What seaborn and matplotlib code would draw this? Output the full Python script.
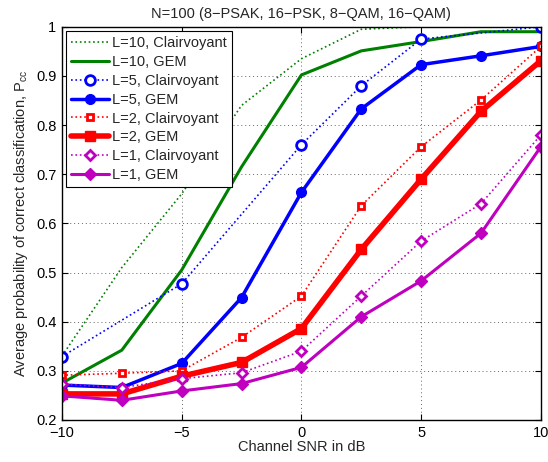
import matplotlib
matplotlib.use("Agg")
import matplotlib.pyplot as plt
import seaborn as sns
import numpy as np

snr = [-10, -7.5, -5, -2.5, 0, 2.5, 5, 7.5, 10]
snr_l5c = [-10, -5, 0, 2.5, 5, 10]

l10_clair = [0.33, 0.51, 0.66, 0.84, 0.935, 0.995, 1.0, 1.0, 1.0]
l10_gem = [0.275, 0.342, 0.505, 0.715, 0.902, 0.951, 0.97, 0.99, 0.99]
l5_clair = [0.329, 0.477, 0.76, 0.88, 0.975, 1.0]
l5_gem = [0.271, 0.266, 0.315, 0.449, 0.663, 0.833, 0.923, 0.941, 0.96]
l2_clair = [0.291, 0.295, 0.30, 0.368, 0.452, 0.636, 0.756, 0.851, 0.96]
l2_gem = [0.253, 0.253, 0.289, 0.317, 0.386, 0.547, 0.69, 0.828, 0.931]
l1_clair = [0.273, 0.266, 0.284, 0.296, 0.34, 0.452, 0.564, 0.64, 0.78]
l1_gem = [0.249, 0.24, 0.259, 0.274, 0.307, 0.41, 0.483, 0.58, 0.756]

labels = ["L=10, Clairvoyant", "L=10, GEM", "L=5, Clairvoyant", "L=5, GEM",
          "L=2, Clairvoyant", "L=2, GEM", "L=1, Clairvoyant", "L=1, GEM"]
title = "N=100 (8\u2212PSAK, 16\u2212PSK, 8\u2212QAM, 16\u2212QAM)"
xlabel = "Channel SNR in dB"
ylabel = "Average probability of correct classification, P$_{\\rm cc}$"

sns.set_style("ticks")
plt.rcParams['font.family'] = ['Liberation Sans', 'DejaVu Sans']
plt.rcParams['mathtext.fontset'] = 'custom'
plt.rcParams['mathtext.rm'] = 'Liberation Sans'
plt.rcParams['axes.unicode_minus'] = True

fig = plt.figure(figsize=(5.48, 4.62), dpi=100)
ax = fig.add_axes([0.113, 0.091, 0.874, 0.851])

green = "#008000"
blue = "#0000FF"
red = "#FF0000"
mag = "#BF00BF"

specs = [
    (snr, l10_clair, green, ":", 1.2, None, 0, True),
    (snr, l10_gem, green, "-", 2.2, None, 0, True),
    (snr_l5c, l5_clair, blue, ":", 1.2, "o", 7, False),
    (snr, l5_gem, blue, "-", 2.5, "o", 7, True),
    (snr, l2_clair, red, ":", 1.2, "s", 5, False),
    (snr, l2_gem, red, "-", 4.0, "s", 7, True),
    (snr, l1_clair, mag, ":", 1.2, "D", 5, False),
    (snr, l1_gem, mag, "-", 2.2, "D", 6, True),
]

for (x, y, c, ls, lw, mk, ms, filled), lab in zip(specs, labels):
    kw = dict(marker=mk, markersize=ms, markeredgewidth=2.0 if not filled else 1.0,
              markeredgecolor=c, markerfacecolor=(c if filled else "white")) if mk else {}
    sns.lineplot(x=x, y=y, ax=ax, color=c, linestyle=ls, linewidth=lw,
                 label=lab, **kw)

ax.set_xlim(-10, 10)
ax.set_ylim(0.2, 1.0)
ax.set_xticks([-10, -5, 0, 5, 10])
ax.set_yticks([0.2, 0.3, 0.4, 0.5, 0.6, 0.7, 0.8, 0.9, 1.0])
ax.set_yticklabels(["0.2", "0.3", "0.4", "0.5", "0.6", "0.7", "0.8", "0.9", "1"])
ax.set_xticklabels(["\u221210", "\u22125", "0", "5", "10"])
ax.tick_params(direction="in", top=True, right=True, length=4, width=0.8,
               labelsize=10.5, colors="black", pad=4)
ax.grid(True, linestyle=(0, (1, 3)), color="#666666", linewidth=0.7)
for s in ax.spines.values():
    s.set_visible(True)
    s.set_color("black")
    s.set_linewidth(1.0)

ax.set_title(title, fontsize=10.5, pad=6)
ax.set_xlabel(xlabel, fontsize=10.5, labelpad=0)
ax.set_ylabel(ylabel, fontsize=10.5, labelpad=4)

leg = ax.legend(loc="upper left", fontsize=10.5, frameon=True, fancybox=False,
                edgecolor="black", framealpha=1, borderpad=0.35, labelspacing=0.33,
                handlelength=2.6, handletextpad=0.2, borderaxespad=0.3)
leg.get_frame().set_linewidth(0.8)

fig.savefig("out.png", dpi=100)
